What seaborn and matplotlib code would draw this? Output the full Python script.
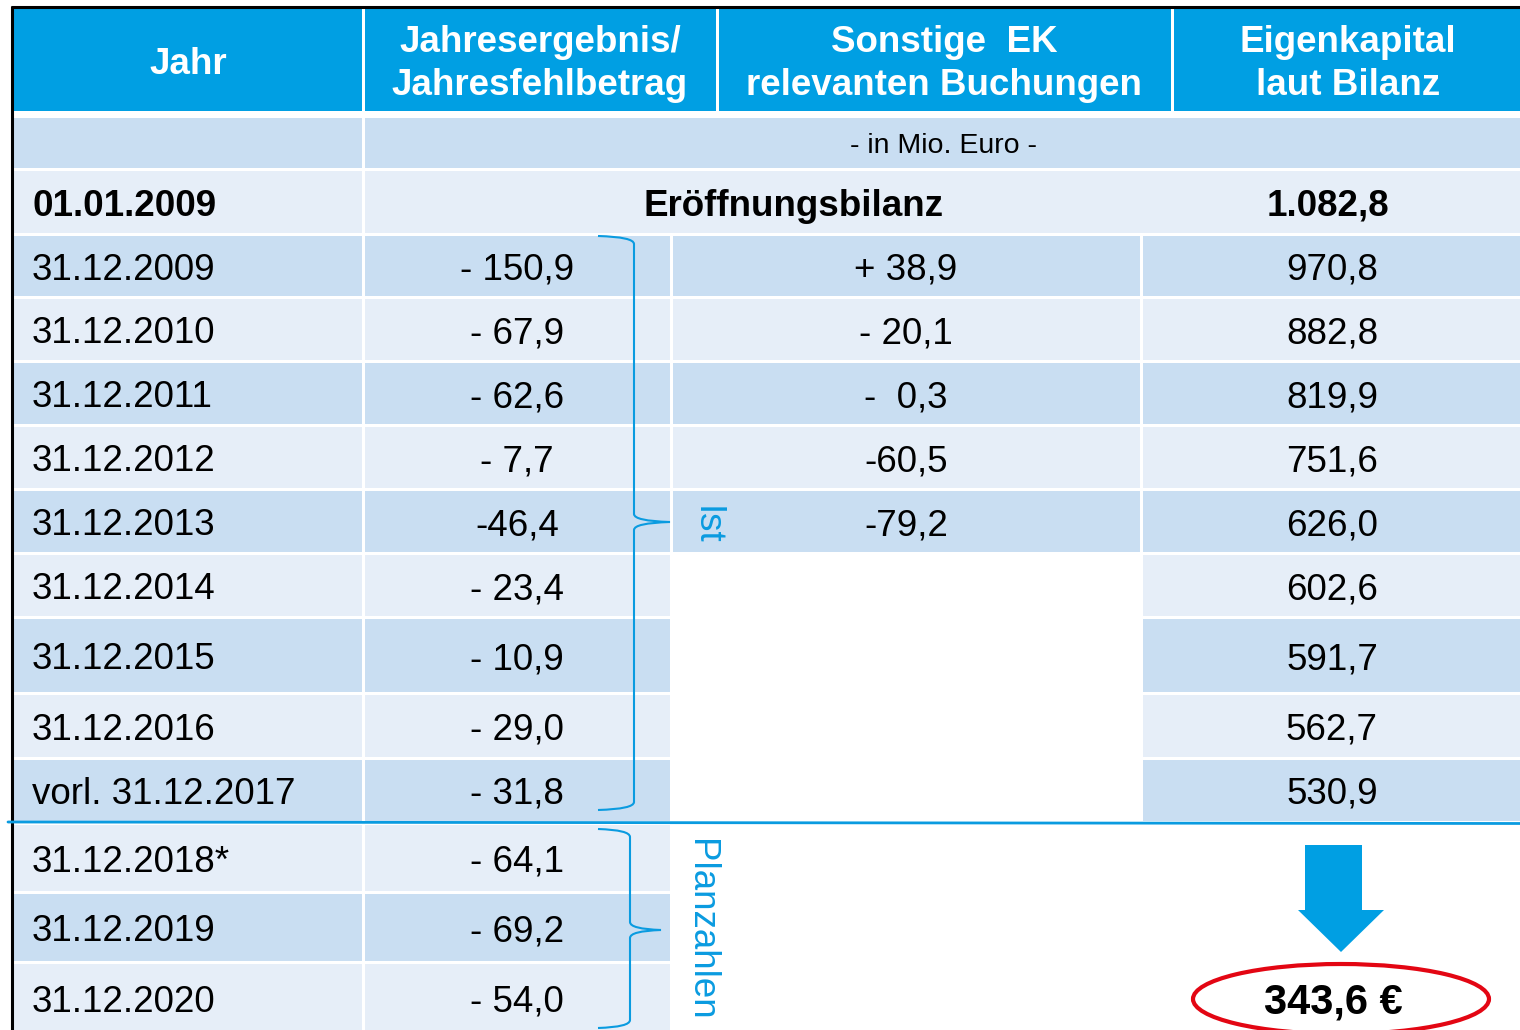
import matplotlib
matplotlib.use("Agg")
import matplotlib.pyplot as plt
from matplotlib.path import Path
from matplotlib.patches import PathPatch, Ellipse
import seaborn as sns

# ---------------- data ----------------
header_labels = ["Jahr", "Jahresergebnis/\nJahresfehlbetrag",
                 "Sonstige  EK\nrelevanten Buchungen", "Eigenkapital\nlaut Bilanz"]
unit_label = "- in Mio. Euro -"
opening_date = "01.01.2009"
opening_label = "Eröffnungsbilanz"
opening_equity = "1.082,8"
years = ["31.12.2009", "31.12.2010", "31.12.2011", "31.12.2012", "31.12.2013",
         "31.12.2014", "31.12.2015", "31.12.2016", "vorl. 31.12.2017",
         "31.12.2018*", "31.12.2019", "31.12.2020"]
annual_result = ["- 150,9", "- 67,9", "- 62,6", "- 7,7", "-46,4", "- 23,4",
                 "- 10,9", "- 29,0", "- 31,8", "- 64,1", "- 69,2", "- 54,0"]
other_bookings = ["+ 38,9", "- 20,1", "-  0,3", "-60,5", "-79,2"]
equity = ["970,8", "882,8", "819,9", "751,6", "626,0", "602,6", "591,7",
          "562,7", "530,9"]
bracket_labels = ["Ist", "Planzahlen"]
final_equity = "343,6 €"

# ---------------- style ----------------
sns.set_theme(style="white")
plt.rcParams['font.family'] = ['Liberation Sans', 'DejaVu Sans']
plt.rcParams['text.color'] = 'black'

HEAD = "#009FE3"
DARK = "#C9DEF2"
LIGHT = "#E6EEF8"
LINE = "#0A9BE0"
FS = 26.5

fig = plt.figure(figsize=(15.2, 10.3), dpi=100)
ax = fig.add_axes([0, 0, 1, 1])
ax.set_xlim(0, 1520)
ax.set_ylim(1030, 0)
ax.axis("off")


def cell(x0, x1, y0, y1, color):
    ax.barh((y0 + y1) / 2, x1 - x0, left=x0, height=y1 - y0, color=color,
            linewidth=0)


# header
head_edges = [13, 363, 717, 1172, 1522]
head_centers = [188, 540, 944, 1348]
for i, lab in enumerate(header_labels):
    cell(head_edges[i] + (0 if i == 0 else 1.5), head_edges[i + 1] - 1.5, 9, 111, HEAD)
    ax.text(head_centers[i], 64, lab, ha="center", va="center", color="white",
            fontsize=FS, fontweight="bold", linespacing=1.26)

# unit row and opening row
cell(14, 361.5, 118, 168, DARK)
cell(364.5, 1522, 118, 168, DARK)
ax.text(943, 146, unit_label, ha="center", va="center", fontsize=20.5, color="black")
cell(14, 361.5, 171, 233, LIGHT)
cell(364.5, 1522, 171, 233, LIGHT)
ax.text(32, 206, opening_date, ha="left", va="center", fontsize=FS, fontweight="bold")
ax.text(794, 206, opening_label, ha="center", va="center", fontsize=FS, fontweight="bold")
ax.text(1328, 206, opening_equity, ha="center", va="center", fontsize=FS, fontweight="bold")

# data rows
row_top = [236, 299, 363, 427, 491, 555, 619, 695, 760, 825, 894, 964]
row_bot = [296, 360, 424, 488, 552, 616, 692, 757, 821, 891, 961, 1032]
for i, yr in enumerate(years):
    color = DARK if i % 2 == 0 else LIGHT
    y0, y1 = row_top[i], row_bot[i]
    yc = (y0 + y1) / 2 + 4
    cell(14, 361.5, y0, y1, color)
    cell(364.5, 669.5, y0, y1, color)
    ax.text(32, yc, yr, ha="left", va="center", fontsize=FS)
    ax.text(517, yc, annual_result[i], ha="center", va="center", fontsize=FS)
    if i < len(other_bookings):
        cell(672.5, 1140, y0, y1, color)
        ax.text(906, yc, other_bookings[i], ha="center", va="center", fontsize=FS)
    if i < len(equity):
        cell(1143, 1522, y0, y1, color)
        ax.text(1332, yc, equity[i], ha="center", va="center", fontsize=FS)

# frame
ax.plot([12, 12], [6, 1032], color="black", lw=2.2, solid_capstyle="butt")
ax.plot([11, 1522], [7, 7], color="black", lw=2.2, solid_capstyle="butt")

# separator line between actual and planned
ax.plot([8, 1522], [822, 823.5], color=LINE, lw=2.0)


def brace(xs, xc, xt, y0, ym, y1):
    verts = [(xs, y0), (xc, y0 + 1), (xc, y0 + 8),
             (xc, ym - 8),
             (xc, ym - 1), (xt, ym),
             (xc, ym + 1), (xc, ym + 8),
             (xc, y1 - 8),
             (xc, y1 - 1), (xs, y1)]
    codes = [Path.MOVETO, Path.CURVE3, Path.CURVE3,
             Path.LINETO,
             Path.CURVE3, Path.CURVE3,
             Path.CURVE3, Path.CURVE3,
             Path.LINETO,
             Path.CURVE3, Path.CURVE3]
    ax.add_patch(PathPatch(Path(verts, codes), fill=False, edgecolor=LINE, lw=1.5))


brace(598, 634, 670, 236, 522, 810)
brace(598, 630, 661, 829, 930, 1028)
ax.text(706, 525, bracket_labels[0], rotation=-90, ha="center", va="center",
        color=LINE, fontsize=FS)
ax.text(700, 930, bracket_labels[1], rotation=-90, ha="center", va="center",
        color=LINE, fontsize=FS)

# arrow down to the final value
ax.fill([1305, 1362, 1362, 1384, 1341, 1298, 1305],
        [845, 845, 910, 910, 952, 910, 910], color=HEAD, lw=0)
ax.add_patch(Ellipse((1341, 999), 296, 70, fill=False, edgecolor="#E30613", lw=3))
ax.text(1333, 1003, final_equity, ha="center", va="center", fontsize=30,
        fontweight="bold")

fig.savefig("out.png", dpi=100)
